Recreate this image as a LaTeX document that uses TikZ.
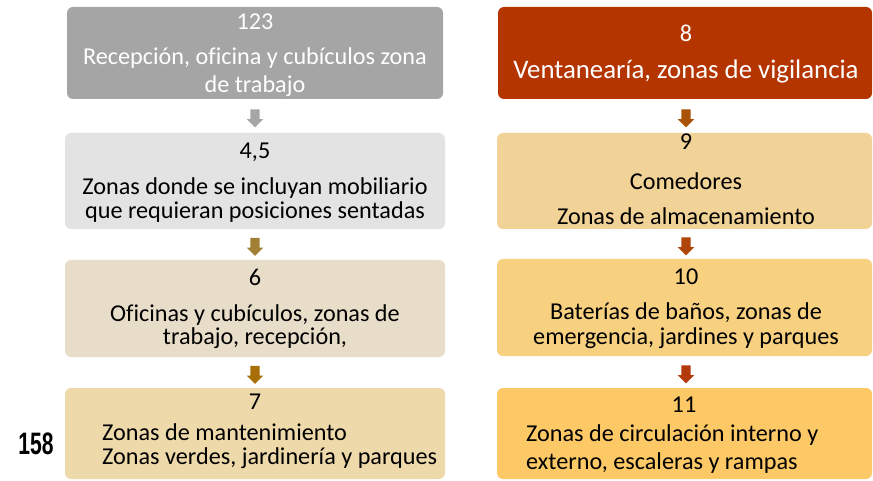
\documentclass[tikz,border=0pt]{standalone}
\usepackage{fontspec}
\setmainfont{Carlito}[Ligatures=NoCommon]
\newfontfamily\numfont{Liberation Sans}
\usetikzlibrary{shapes.arrows,calc}
\definecolor{cA}{HTML}{A5A5A5}
\definecolor{cB}{HTML}{E3E3E3}
\definecolor{cC}{HTML}{E8DDC9}
\definecolor{cD}{HTML}{EED9AA}
\definecolor{cE}{HTML}{B43500}
\definecolor{cF}{HTML}{F2D397}
\definecolor{cG}{HTML}{F7D080}
\definecolor{cH}{HTML}{FDC866}
\definecolor{aA}{HTML}{A6A6A6}
\definecolor{aB}{HTML}{A08035}
\definecolor{aC}{HTML}{A86E08}
\definecolor{aD}{HTML}{A85205}
\definecolor{aE}{HTML}{AF4508}
\definecolor{aF}{HTML}{B33A0A}
\tikzset{
  zbox/.style={rounded corners=6pt, draw=none},
  ztxt/.style={inner sep=0pt, font=\fontsize{24.2}{28}\selectfont, text=black},
  zarrow/.style={single arrow, shape border rotate=270, draw=none, inner sep=4.5pt,
    single arrow head extend=3.5pt, minimum height=18pt, minimum width=16pt}
}
\begin{document}
\begin{tikzpicture}[x=1pt,y=-1pt]
\useasboundingbox (0,0) rectangle (873,481);
% left column boxes
\fill[cA,zbox] (67,7) rectangle (443,99);
\node[coordinate] (b1n) at (255,7) {};
\node[coordinate] (b1s) at (255,99) {};
\fill[cB,zbox] (65,133) rectangle (445,229);
\node[coordinate] (b2n) at (255,133) {};
\node[coordinate] (b2s) at (255,229) {};
\fill[cC,zbox] (65,260) rectangle (445,357);
\node[coordinate] (b3n) at (255,260) {};
\node[coordinate] (b3s) at (255,357) {};
\fill[cD,zbox] (65,388) rectangle (445,479);
\node[coordinate] (b4n) at (255,388) {};
% right column boxes
\fill[cE,zbox] (498,7) rectangle (872,99);
\node[coordinate] (r1n) at (686,7) {};
\node[coordinate] (r1s) at (686,99) {};
\fill[cF,zbox] (497,133) rectangle (872,229);
\node[coordinate] (r2n) at (686,133) {};
\node[coordinate] (r2s) at (686,229) {};
\fill[cG,zbox] (497,259) rectangle (872,356);
\node[coordinate] (r3n) at (686,259) {};
\node[coordinate] (r3s) at (686,356) {};
\fill[cH,zbox] (497,388) rectangle (872,479);
\node[coordinate] (r4n) at (686,388) {};
% arrows
\node[zarrow, fill=aA] (a1) at ($(b1s)!0.5!(b2n)$) {};
\node[zarrow, fill=aB] (a2) at ($(b2s)!0.5!(b3n)$) {};
\node[zarrow, fill=aC] (a3) at ($(b3s)!0.5!(b4n)$) {};
\node[zarrow, fill=aD] (a4) at ($(r1s)!0.5!(r2n)$) {};
\node[zarrow, fill=aE] (a5) at ($(r2s)!0.5!(r3n)$) {};
\node[zarrow, fill=aF] (a6) at ($(r3s)!0.5!(r4n)$) {};
% texts left
\node[ztxt, text=white] (t1a) at (255,22) {123};
\node[ztxt, text=white] (t1b) at (255,58) {Recepción, oficina y cubículos zona};
\node[ztxt, text=white] (t1c) at (255,86) {de trabajo};
\node[ztxt] (t2a) at (255,152) {4,5};
\node[ztxt] (t2b) at (255,188) {Zonas donde se incluyan mobiliario};
\node[ztxt] (t2c) at (255,212) {que requieran posiciones sentadas};
\node[ztxt] (t3a) at (255,277) {6};
\node[ztxt] (t3b) at (255,315) {Oficinas y cubículos, zonas de};
\node[ztxt] (t3c) at (255,338) {trabajo, recepción,};
\node[ztxt] (t4a) at (255,402) {7};
\node[ztxt, anchor=west] (t4b) at (102,432) {Zonas de mantenimiento};
\node[ztxt, anchor=west] (t4c) at (102,458) {Zonas verdes, jardinería y parques};
% texts right
\node[ztxt, text=white] (t5a) at (686,33) {8};
\node[ztxt, text=white, font=\fontsize{26.8}{30}\selectfont] (t5b) at (686,72) {Ventanearía, zonas de vigilancia};
\node[ztxt] (t6a) at (686,142) {9};
\node[ztxt] (t6b) at (686,181) {Comedores};
\node[ztxt] (t6c) at (686,216) {Zonas de almacenamiento};
\node[ztxt] (t7a) at (686,277) {10};
\node[ztxt] (t7b) at (686,313) {Baterías de baños, zonas de};
\node[ztxt] (t7c) at (686,338) {emergencia, jardines y parques};
\node[ztxt] (t8a) at (684,405) {11};
\node[ztxt, anchor=west] (t8b) at (526,435) {Zonas de circulación interno y};
\node[ztxt, anchor=west] (t8c) at (526,463) {externo, escaleras y rampas};
% page number
\node[inner sep=0pt] (pg) at (36,444) {\scalebox{0.68}[1]{\numfont\bfseries\fontsize{31}{31}\selectfont 158}};
\end{tikzpicture}
\end{document}
